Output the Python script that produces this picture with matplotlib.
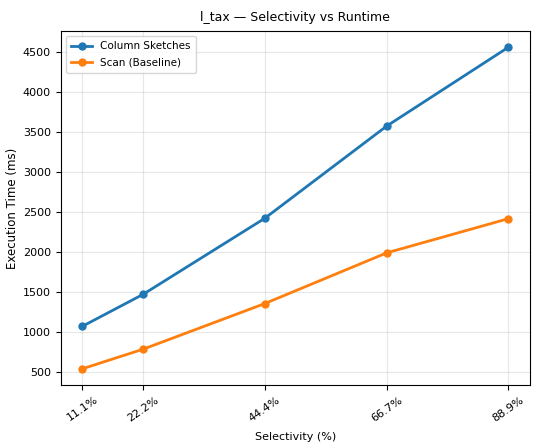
import matplotlib
matplotlib.use("Agg")
import matplotlib.pyplot as plt

selectivity = [11.1, 22.2, 44.4, 66.7, 88.9]
tick_labels = ["11.1%", "22.2%", "44.4%", "66.7%", "88.9%"]
column_sketches = [1075, 1475, 2425, 3580, 4565]
scan_baseline = [545, 790, 1360, 1995, 2422]

fig = plt.figure(figsize=(5.33, 4.44), dpi=100)
ax = fig.add_axes([0.114, 0.133, 0.88, 0.797])

ax.plot(selectivity, column_sketches, label="Column Sketches", marker="o", linewidth=2, markersize=5)
ax.plot(selectivity, scan_baseline, label="Scan (Baseline)", marker="o", linewidth=2, markersize=5)

ax.set_title("l_tax — Selectivity vs Runtime", fontsize=9, pad=7)
ax.set_xlabel("Selectivity (%)", fontsize=8, labelpad=6)
ax.set_ylabel("Execution Time (ms)", fontsize=8.5)
ax.yaxis.set_label_coords(-0.088, 0.5)
ax.set_xticks(selectivity)
ax.set_xticklabels(tick_labels, rotation=35)
ax.tick_params(labelsize=8)
ax.grid(True, alpha=0.3)
ax.legend(fontsize=7.5, loc="upper left", borderpad=0.5, labelspacing=0.6)

fig.savefig("out.png", dpi=100)
